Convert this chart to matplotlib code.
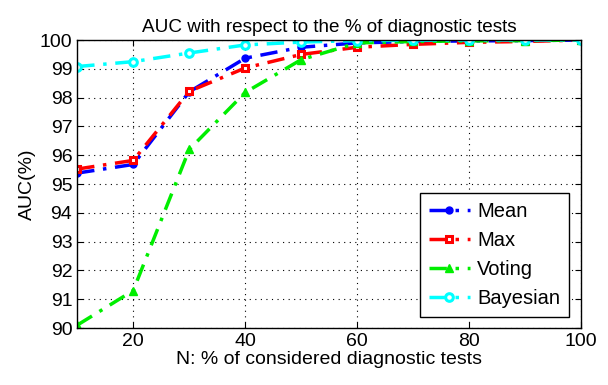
import numpy as np
import matplotlib.pyplot as plt

plt.rcParams['font.family'] = ['Liberation Sans', 'DejaVu Sans']

n_tests = [10, 20, 30, 40, 50, 60, 70, 80, 90, 100]
auc_mean = [95.38, 95.68, 98.2, 99.37, 99.75, 99.9, 99.95, 99.97, 99.98, 100.0]
auc_max = [95.52, 95.82, 98.22, 99.03, 99.5, 99.75, 99.85, 99.92, 99.95, 100.0]
auc_voting = [90.1, 91.3, 96.2, 98.18, 99.32, 99.9, 99.95, 99.97, 99.98, 100.0]
auc_bayes = [99.08, 99.25, 99.55, 99.83, 99.93, 99.98, 99.99, 100.0, 100.0, 100.0]

fig = plt.figure(figsize=(6.08, 3.85), dpi=100)
ax = fig.add_axes([0.127, 0.148, 0.829, 0.748])

lw = 2.5
dd = (0, (5, 2.5, 1, 2.5))
ax.plot(n_tests, auc_mean, linestyle=dd, color='#0000ff', lw=lw, marker='o', ms=5,
        mfc='#0000ff', mec='#0000ff', label='Mean')
ax.plot(n_tests, auc_max, linestyle=dd, color='#ff0000', lw=lw, marker='s', ms=5,
        mfc='white', mec='#ff0000', mew=2.2, label='Max')
ax.plot(n_tests, auc_voting, linestyle=dd, color='#00ee00', lw=lw, marker='^', ms=6,
        mfc='#00ee00', mec='#00ee00', label='Voting')
ax.plot(n_tests, auc_bayes, linestyle=dd, color='#00ffff', lw=lw, marker='o', ms=5.5,
        mfc='white', mec='#00ffff', mew=2.2, label='Bayesian')

ax.set_xlim(10, 100)
ax.set_ylim(90, 100)
ax.set_xticks([20, 40, 60, 80, 100])
ax.set_yticks(np.arange(90, 101, 1))
ax.grid(True, color='black', linestyle=(0, (1, 4)), linewidth=0.8)
ax.tick_params(direction='in', top=True, right=True, labelsize=14, length=4)
for s in ax.spines.values():
    s.set_linewidth(1.0)

ax.set_title('AUC with respect to the % of diagnostic tests', fontsize=13.6)
ax.set_xlabel('N: % of considered diagnostic tests', fontsize=14, labelpad=1)
ax.set_ylabel('AUC(%)', fontsize=14, labelpad=3)

leg = ax.legend(loc='lower right', fontsize=14.5, fancybox=False, edgecolor='black',
                framealpha=1, handlelength=2.05, borderpad=0.45, labelspacing=0.5,
                handletextpad=0.35, borderaxespad=0, bbox_to_anchor=(0.976, 0.038))
leg.get_frame().set_linewidth(1.0)

fig.savefig('out.png', dpi=100)
